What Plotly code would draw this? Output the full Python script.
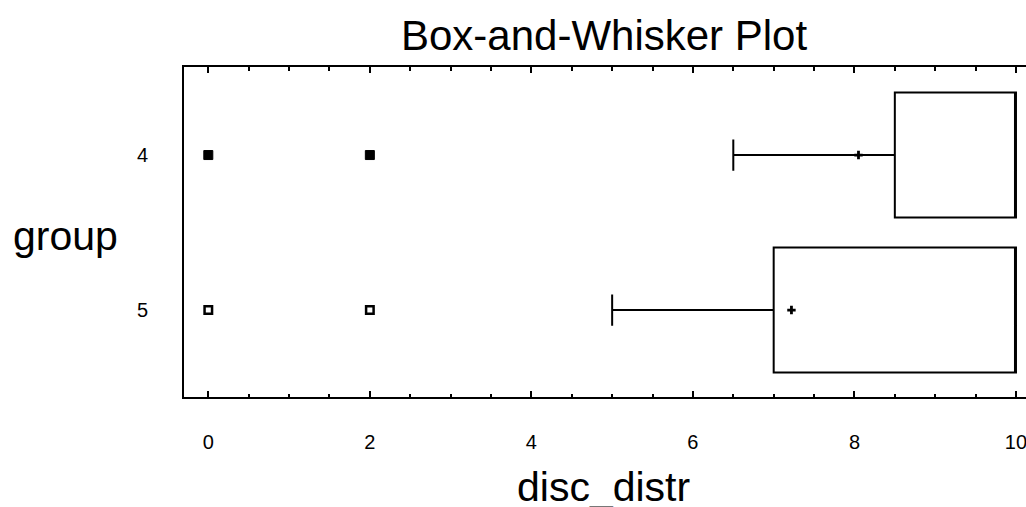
import plotly.graph_objects as go

groups = ["4", "5"]
group_pos = [0, 1]
q1 = [8.5, 7.0]
median = [10.0, 10.0]
q3 = [10.0, 10.0]
lower_whisker = [6.5, 5.0]
upper_whisker = [10.0, 10.0]
means = [8.05, 7.22]
outliers_far_x = [0.0, 2.0]      # group 4, filled squares
outliers_far_y = [0, 0]
outliers_x = [0.0, 2.0]          # group 5, hollow squares
outliers_y = [1, 1]

W, H = 1026, 507
L, R, T, B = 184, 0, 67, 110
FONT = "Liberation Sans, Arial, sans-serif"

fig = go.Figure()
for i in range(len(groups)):
    fig.add_trace(go.Box(
        y=[group_pos[i]], q1=[q1[i]], median=[median[i]], q3=[q3[i]],
        lowerfence=[lower_whisker[i]], upperfence=[upper_whisker[i]],
        orientation="h", width=0.806, whiskerwidth=0.25,
        fillcolor="rgba(0,0,0,0)", line=dict(color="black", width=2),
        boxpoints=False, showlegend=False, hoverinfo="skip",
    ))

fig.add_trace(go.Scatter(x=means, y=group_pos, mode="markers",
                         marker=dict(symbol="cross", size=7, color="black"),
                         showlegend=False))
fig.add_trace(go.Scatter(x=outliers_far_x, y=outliers_far_y, mode="markers",
                         marker=dict(symbol="square", size=9, color="black",
                                     line=dict(color="black", width=1)),
                         showlegend=False))
fig.add_trace(go.Scatter(x=outliers_x, y=outliers_y, mode="markers",
                         marker=dict(symbol="square", size=7.5, color="white",
                                     line=dict(color="black", width=2.5)),
                         showlegend=False))

PW = W - L - R


def px_x(p):
    return (p - L) / PW


def py(p):
    return (H - B - p) / (H - T - B)


fig.update_layout(
    width=W, height=H, margin=dict(l=L, r=R, t=T, b=B, autoexpand=False),
    paper_bgcolor="white", plot_bgcolor="white",
    font=dict(family=FONT, color="black"),
    xaxis=dict(range=[-0.301, 10.124], tickvals=[0, 2, 4, 6, 8, 10],
               ticks="inside", ticklen=6, tickwidth=1.5, tickcolor="black",
               minor=dict(dtick=0.5, ticks="inside", ticklen=3.5, tickwidth=1.5,
                          tickcolor="black"),
               showline=True, linecolor="black", linewidth=2, mirror="allticks",
               showgrid=False, zeroline=False, automargin=False,
               ticklabeloverflow="allow",
               tickfont=dict(size=20, family=FONT), ticklabelstandoff=26),
    yaxis=dict(range=[1.561, -0.568], tickvals=group_pos, ticktext=groups,
               ticks="", showline=True, linecolor="black", linewidth=2,
               showgrid=False, zeroline=False, automargin=False,
               tickfont=dict(size=20, family=FONT), ticklabelstandoff=30),
    annotations=[
        dict(text="Box-and-Whisker Plot", x=px_x(603.5), y=py(35), xref="paper",
             yref="paper", xanchor="center", yanchor="middle", showarrow=False,
             font=dict(size=42, family=FONT)),
        dict(text="disc_distr", x=px_x(603.5), y=py(487), xref="paper",
             yref="paper", xanchor="center", yanchor="middle", showarrow=False,
             font=dict(size=41, family=FONT)),
        dict(text="group", x=px_x(65), y=py(236), xref="paper",
             yref="paper", xanchor="center", yanchor="middle", showarrow=False,
             font=dict(size=41, family=FONT)),
    ],
)

fig.write_html(
    "out.html",
    config={"displayModeBar": False},
    post_script="document.body.style.margin='0';document.body.style.padding='0';"
                "document.body.style.overflow='hidden';",
)
